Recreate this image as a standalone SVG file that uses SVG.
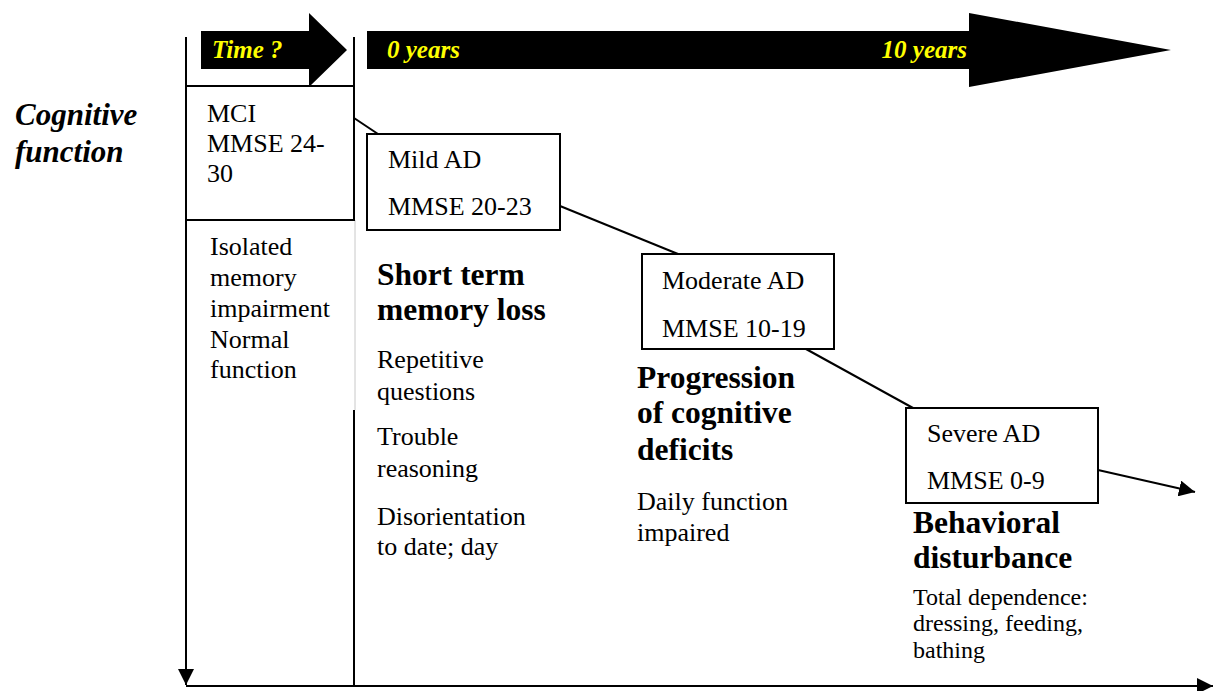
<svg xmlns="http://www.w3.org/2000/svg" width="1213" height="691" viewBox="0 0 1213 691">
<style>
text{font-family:"Liberation Serif","Times New Roman",serif;fill:#000}
.r{font-size:26px}
.b{font-size:31.5px;font-weight:bold}
.y{font-size:25px;font-weight:bold;font-style:italic;fill:#ffff00}
.t{font-size:24px}
.box{fill:#fff;stroke:#000;stroke-width:2}
.ln{stroke:#000;stroke-width:2;fill:none}
</style>
<defs>
<marker id="ah" viewBox="0 0 10 10" refX="10" refY="5" markerWidth="16" markerHeight="16" markerUnits="userSpaceOnUse" orient="auto">
<path d="M0,0L10,5L0,10z" fill="#000"/>
</marker>
</defs>
<g id="time-arrows">
<path d="M201,31H309V13L347,50L309,87V69H201z" fill="#000"/>
<path d="M367,31H969V13L1171,50L969,87V69H367z" fill="#000"/>
<text class="y" x="212" y="58">Time ?</text>
<text class="y" x="387" y="58">0 years</text>
<text class="y" x="967" y="58" text-anchor="end">10 years</text>
</g>
<g id="axes">
<line class="ln" x1="186" y1="37" x2="186" y2="685" marker-end="url(#ah)"/>
<line class="ln" x1="186" y1="686" x2="1213" y2="686" marker-end="url(#ah)"/>
<line class="ln" x1="354" y1="37" x2="354" y2="220"/>
<line x1="355" y1="220" x2="355" y2="410" stroke="#c8c8c8" stroke-width="1"/>
<line class="ln" x1="354" y1="410" x2="354" y2="686"/>
<line class="ln" x1="186" y1="220" x2="354" y2="220"/>
</g>
<g id="ylabel">
<text x="15" y="125" style="font-size:31px;font-weight:bold;font-style:italic">Cognitive</text>
<text x="15" y="162" style="font-size:31px;font-weight:bold;font-style:italic">function</text>
</g>
<g id="connectors">
<line class="ln" x1="354" y1="118" x2="378" y2="134"/>
<line class="ln" x1="560" y1="206" x2="678" y2="254"/>
<line class="ln" x1="806" y1="349" x2="913" y2="408"/>
<line class="ln" x1="1098" y1="470" x2="1195" y2="492" marker-end="url(#ah)"/>
</g>
<g id="mci">
<rect class="box" x="186" y="86" width="168" height="134"/>
<text class="r" x="207" y="122">MCI</text>
<text class="r" x="207" y="152">MMSE 24-</text>
<text class="r" x="207" y="182">30</text>
</g>
<g id="mci-text">
<text class="r" x="210" y="255">Isolated</text>
<text class="r" x="210" y="286">memory</text>
<text class="r" x="210" y="317">impairment</text>
<text class="r" x="210" y="348">Normal</text>
<text class="r" x="210" y="378">function</text>
</g>
<g id="mild">
<rect class="box" x="367" y="134" width="193" height="96"/>
<text class="r" x="388" y="168">Mild AD</text>
<text class="r" x="388" y="215">MMSE 20-23</text>
</g>
<g id="mild-text">
<text class="b" x="377" y="285">Short term</text>
<text class="b" x="377" y="320">memory loss</text>
<text class="r" x="377" y="368">Repetitive</text>
<text class="r" x="377" y="400">questions</text>
<text class="r" x="377" y="445">Trouble</text>
<text class="r" x="377" y="477">reasoning</text>
<text class="r" x="377" y="525">Disorientation</text>
<text class="r" x="377" y="555">to date; day</text>
</g>
<g id="moderate">
<rect class="box" x="642" y="254" width="192" height="95"/>
<text class="r" x="662" y="289">Moderate AD</text>
<text class="r" x="662" y="337">MMSE 10-19</text>
</g>
<g id="moderate-text">
<text class="b" x="637" y="388">Progression</text>
<text class="b" x="637" y="423">of cognitive</text>
<text class="b" x="637" y="460">deficits</text>
<text class="r" x="637" y="510">Daily function</text>
<text class="r" x="637" y="541">impaired</text>
</g>
<g id="severe">
<rect class="box" x="906" y="408" width="192" height="95"/>
<text class="r" x="927" y="442">Severe AD</text>
<text class="r" x="927" y="489">MMSE 0-9</text>
</g>
<g id="severe-text">
<text class="b" x="913" y="533">Behavioral</text>
<text class="b" x="913" y="568">disturbance</text>
<text class="t" x="913" y="605">Total dependence:</text>
<text class="t" x="913" y="631">dressing, feeding,</text>
<text class="t" x="913" y="658">bathing</text>
</g>
</svg>
